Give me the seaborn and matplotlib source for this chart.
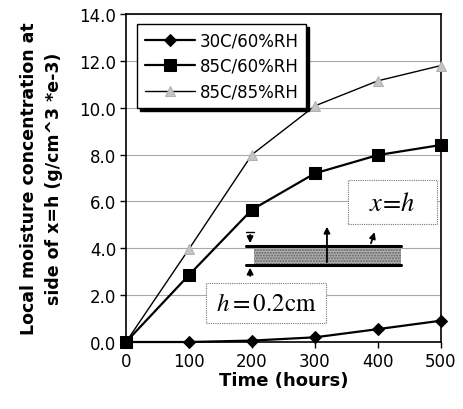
import matplotlib
matplotlib.use("Agg")
import matplotlib.pyplot as plt
import seaborn as sns
import pandas as pd
from matplotlib.patches import Rectangle

time_hours = [0, 100, 200, 300, 400, 500]
rh30_60 = [0.0, 0.0, 0.06, 0.2, 0.55, 0.91]
rh85_60 = [0.0, 2.86, 5.65, 7.2, 7.98, 8.41]
rh85_85 = [0.0, 3.97, 8.0, 10.08, 11.15, 11.8]
series_labels = ["30C/60%RH", "85C/60%RH", "85C/85%RH"]
y_ticks = [0, 2, 4, 6, 8, 10, 12, 14]
x_ticks = [0, 100, 200, 300, 400, 500]

sns.set_style("white")
plt.rcParams['font.family'] = ['DejaVu Sans']
plt.rcParams['mathtext.fontset'] = 'stix'
plt.rcParams['text.color'] = 'black'
plt.rcParams['axes.labelcolor'] = 'black'
plt.rcParams['xtick.color'] = 'black'
plt.rcParams['ytick.color'] = 'black'
plt.rcParams['hatch.linewidth'] = 1.0

fig = plt.figure(figsize=(4.64, 4.10), dpi=100)
ax = fig.add_axes([126/464, 1-343/410, 315/464, 328/410])

df = pd.DataFrame({"t": time_hours, "a": rh30_60, "b": rh85_60, "c": rh85_85})

sns.lineplot(data=df, x="t", y="a", ax=ax, color="black", lw=1.6, marker="D",
             markersize=6, markerfacecolor="black", markeredgecolor="black",
             clip_on=False, label=series_labels[0], zorder=5)
sns.lineplot(data=df, x="t", y="b", ax=ax, color="black", lw=1.6, marker="s",
             markersize=8, markerfacecolor="black", markeredgecolor="black",
             clip_on=False, label=series_labels[1], zorder=5)
sns.lineplot(data=df, x="t", y="c", ax=ax, color="black", lw=1.0, marker="^",
             markersize=7, markerfacecolor="#c4c4c4", markeredgecolor="#b0b0b0",
             clip_on=False, label=series_labels[2], zorder=4)

ax.set_xlim(0, 500)
ax.set_ylim(0, 14)
ax.set_xticks(x_ticks)
ax.set_yticks(y_ticks)
ax.set_yticklabels([f"{v:.1f}" for v in y_ticks])
ax.tick_params(axis="both", direction="out", length=4, width=1, color="black",
               labelcolor="black", labelsize=12, pad=3, left=True, bottom=True)
ax.yaxis.grid(True, color="#a8a8a8", lw=0.8)
ax.xaxis.grid(False)
for s in ax.spines.values():
    s.set_color("black")
    s.set_linewidth(1.2)

ax.set_xlabel("Time (hours)", fontsize=13, fontweight="bold", labelpad=1, color="black")
ax.set_ylabel("Local moisture concentration at\nside of x=h (g/cm^3 *e-3)",
              fontsize=12.5, fontweight="bold", labelpad=12, linespacing=1.45,
              color="black")

leg = ax.legend(loc="upper left", bbox_to_anchor=(0.035, 0.97), fontsize=12,
                frameon=True, fancybox=False, shadow={"color": "black", "alpha": 1},
                edgecolor="black", framealpha=1, handlelength=3.0,
                handletextpad=0.3, borderpad=0.45, labelspacing=0.45,
                borderaxespad=0)
leg.get_frame().set_linewidth(1.0)
for t in leg.get_texts():
    t.set_color("black")

# inset illustration (axes-fraction coordinates)
tr = ax.transAxes
ax.add_patch(Rectangle((0.406, 0.235), 0.467, 0.058, transform=tr,
                       facecolor="#b0b0b0", edgecolor="#606060", linewidth=0,
                       hatch="......", zorder=3))
ax.plot([0.381, 0.873], [0.293, 0.293], transform=tr, color="black", lw=2.2, zorder=4)
ax.plot([0.381, 0.873], [0.235, 0.235], transform=tr, color="black", lw=2.2, zorder=4)
arrow = dict(arrowstyle="-|>", color="black", lw=1.3, mutation_scale=9)
ax.annotate("", xy=(0.394, 0.293), xytext=(0.394, 0.335), xycoords=tr, textcoords=tr, arrowprops=arrow, zorder=4)
ax.annotate("", xy=(0.394, 0.235), xytext=(0.394, 0.193), xycoords=tr, textcoords=tr, arrowprops=arrow, zorder=4)
ax.plot([0.381, 0.405], [0.335, 0.335], transform=tr, color="black", lw=1.0, zorder=4)
ax.annotate("", xy=(0.638, 0.360), xytext=(0.638, 0.235), xycoords=tr, textcoords=tr, arrowprops=arrow, zorder=4)
ax.annotate("", xy=(0.792, 0.343), xytext=(0.775, 0.293), xycoords=tr, textcoords=tr, arrowprops=arrow, zorder=4)

ax.add_patch(Rectangle((0.705, 0.360), 0.282, 0.134, transform=tr, facecolor="white",
                       edgecolor="#777777", linestyle=(0, (1, 1)), lw=0.8, zorder=6))
ax.text(0.846, 0.424, r"$x\!=\!h$", transform=tr, fontsize=19, ha="center",
        va="center", zorder=7)
ax.add_patch(Rectangle((0.254, 0.058), 0.381, 0.122, transform=tr, facecolor="white",
                       edgecolor="#777777", linestyle=(0, (1, 1)), lw=0.8, zorder=6))
ax.text(0.444, 0.119, r"$h = \mathrm{0.2cm}$", transform=tr, fontsize=18, ha="center",
        va="center", zorder=7)

fig.savefig("out.png", dpi=100)
